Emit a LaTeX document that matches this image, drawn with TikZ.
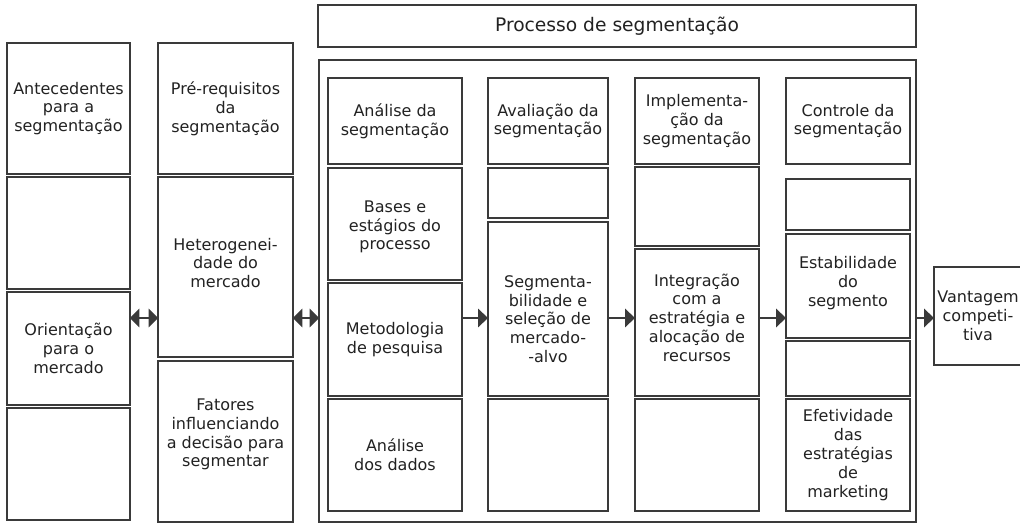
\documentclass[tikz,border=0pt]{standalone}
\usepackage{fontspec}
\setmainfont{DejaVu Sans}
\usetikzlibrary{arrows.meta}
\definecolor{ln}{HTML}{3A3A3A}
\definecolor{tx}{HTML}{222222}
\tikzset{
  box/.style={draw=ln, line width=1pt, inner sep=0pt, outer sep=0pt, fill=white},
  txt/.style={align=center, text=tx, inner sep=0pt, font=\fontsize{12}{14.1}\selectfont},
  onearrow/.style={draw=ln, line width=1pt, -{Triangle[length=7.5pt,width=14pt]}},
  twoarrow/.style={draw=ln, line width=1pt, {Triangle[length=7pt,width=14pt]}-{Triangle[length=7pt,width=14pt]}},
}
% \bx[text shift px]{name}{x1}{y1}{x2}{y2}{text}
\newcommand\bx[7][0]{%
  \node[box, minimum width={(#5-#3)*0.75pt}, minimum height={(#6-#4)*0.75pt}] (#2) at ({(#3+#5)/2},{(#4+#6)/2}) {};
  \node[txt] (#2-t) at ([yshift={-(#1)*0.75pt}]#2.center) {#7};}
\begin{document}
\begin{tikzpicture}[x=0.75pt,y=-0.75pt]
\useasboundingbox (0,0) rectangle (1020,523);
% column 1
\bx{A1}{7}{43}{130}{174}{Antecedentes\\para a\\segmentação}
\bx{A2}{7}{177}{130}{289}{}
\bx{A3}{7}{292}{130}{405}{Orientação\\para o\\mercado}
\bx{A4}{7}{408}{130}{520}{}
% column 2
\bx{B1}{158}{43}{293}{174}{Pré-requisitos\\da\\segmentação}
\bx[-4]{B2}{158}{177}{293}{357}{Heterogenei-\\dade do\\mercado}
\bx[-7]{B3}{158}{361}{293}{522}{Fatores\\influenciando\\a decisão para\\segmentar}
% process
\bx{T}{318}{5}{916}{47}{\fontsize{14}{16}\selectfont Processo de segmentação}
\bx{P}{319}{60}{916}{522}{}
\bx{C1}{328}{78}{462}{164}{Análise da\\segmentação}
\bx[3]{C2}{328}{168}{462}{280}{Bases e\\estágios do\\processo}
\bx{C3}{328}{283}{462}{396}{Metodologia\\de pesquisa}
\bx{C4}{328}{399}{462}{511}{Análise\\dos dados}
\bx{D1}{488}{78}{608}{164}{Avaliação da\\segmentação}
\bx{D2}{488}{168}{608}{218}{}
\bx[10]{D3}{488}{222}{608}{396}{Segmenta-\\bilidade e\\seleção de\\mercado-\\-alvo}
\bx{D4}{488}{399}{608}{511}{}
\bx{E1}{635}{78}{759}{164}{\fontsize{12}{12.9}\selectfont Implementa-\\ção da\\segmentação}
\bx{E2}{635}{167}{759}{246}{}
\bx[-5]{E3}{635}{249}{759}{396}{Integração\\com a\\estratégia e\\alocação de\\recursos}
\bx{E4}{635}{399}{759}{511}{}
\bx{F1}{786}{78}{910}{164}{Controle da\\segmentação}
\bx{F2}{786}{179}{910}{230}{}
\bx[-3]{F3}{786}{234}{910}{338}{Estabilidade\\do\\segmento}
\bx{F4}{786}{341}{910}{396}{}
\bx{F5}{786}{399}{910}{511}{Efetividade\\das\\estratégias\\de\\marketing}
% result
\bx{V}{934}{267}{1022}{365}{Vantagem\\competi-\\tiva}
% connectors
\coordinate (ay) at (0,318);
\draw[twoarrow] (A3.east |- ay) -- (B2.west |- ay);
\draw[twoarrow] (B2.east |- ay) -- (P.west |- ay);
\draw[onearrow] (C3.east |- ay) -- (D3.west |- ay);
\draw[onearrow] (D3.east |- ay) -- (E3.west |- ay);
\draw[onearrow] (E3.east |- ay) -- (F3.west |- ay);
\draw[onearrow] (P.east |- ay) -- (V.west |- ay);
\end{tikzpicture}
\end{document}
